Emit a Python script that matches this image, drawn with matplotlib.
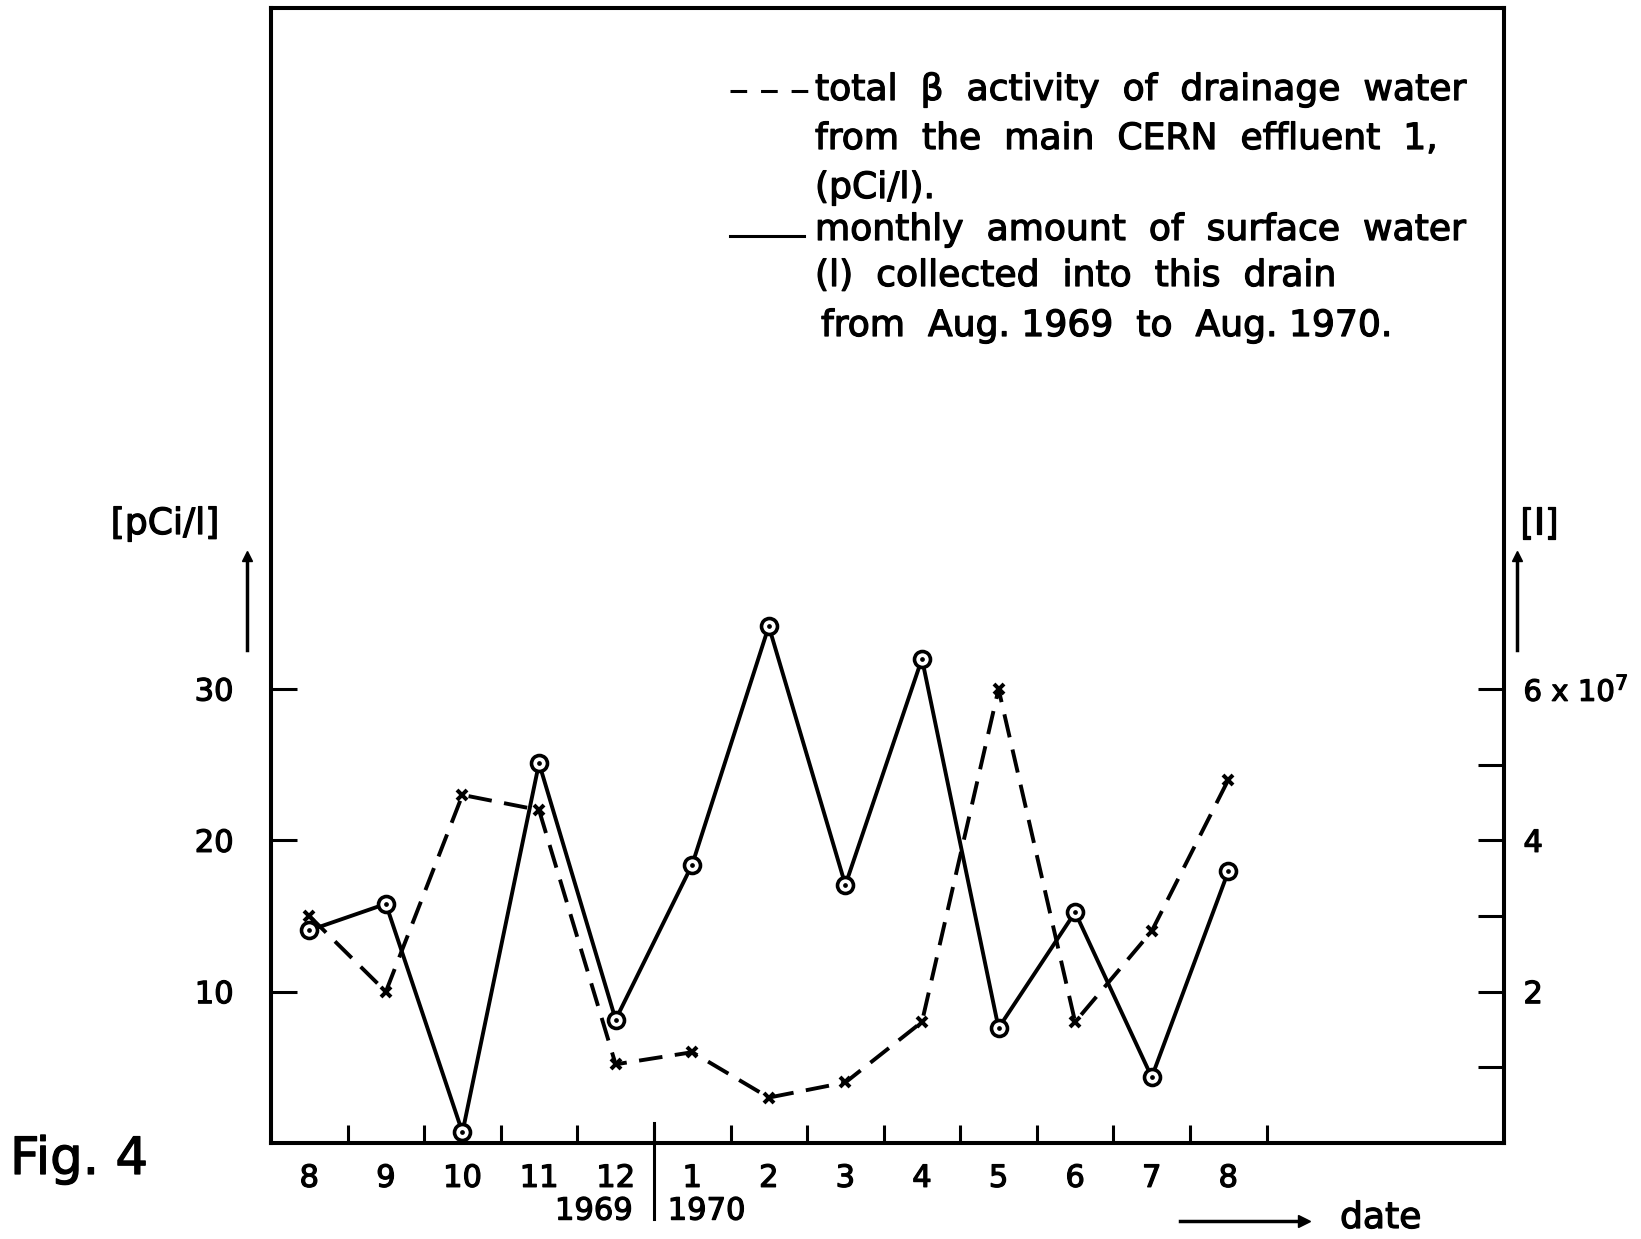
import numpy as np
import matplotlib
matplotlib.use('Agg')
import matplotlib.pyplot as plt
import matplotlib.patheffects as pe
from matplotlib.lines import Line2D
from matplotlib.text import Text

# months Aug 1969 .. Aug 1970
months = ['8', '9', '10', '11', '12', '1', '2', '3', '4', '5', '6', '7', '8']
# total beta activity of drainage water (pCi/l), dashed line with x marks
beta_activity = [15, 10, 23, 22, 5.2, 6, 3, 4, 8, 30, 8, 14, 24]
# monthly amount of surface water, in units of 1e7 litres, solid line with circles
surface_water = [2.81, 3.16, 0.14, 5.02, 1.63, 3.68, 6.83, 3.41, 6.4, 1.52, 3.05, 0.87, 3.59]

W, H = 1641, 1239
plt.rcParams['font.family'] = ['DejaVu Sans']
plt.rcParams['lines.scale_dashes'] = False

fig = plt.figure(figsize=(W / 100, H / 100), dpi=100)
fig.patch.set_facecolor('white')


def fx(px):
    return px / W


def fy(py):
    return 1 - py / H


ax = fig.add_axes([fx(271), fy(1143), fx(1504) - fx(271), fy(8) - fy(1143)])
ax2 = ax.twinx()

x = np.arange(len(months))
ax.set_xlim(-0.5, 15.6)
ax.set_ylim(0, 75)
ax2.set_ylim(0, 15)

for a in (ax, ax2):
    for s in a.spines.values():
        s.set_linewidth(2.9)

# dashed series
ax.plot(x, beta_activity, color='black', lw=2.8, dashes=(17, 9),
        marker='x', ms=7.5, mew=2.9, clip_on=False, zorder=3)
# solid series on the right scale
ax2.plot(x, surface_water, color='black', lw=2.8, marker='o', ms=11.5,
         mfc='white', mec='black', mew=2.6, clip_on=False, zorder=4)
ax2.plot(x, surface_water, ls='none', marker='o', ms=2.4, color='black',
         clip_on=False, zorder=5)

# left axis
ax.set_yticks([10, 20, 30])
ax.set_yticklabels(['10', '20', '30'])
ax.tick_params(axis='y', direction='in', length=19, width=2.2, labelsize=22, pad=27)

# bottom axis: tick marks between months, labels under the months
ax.set_xticks(np.arange(0.5, 12.6, 1.0))
ax.set_xticklabels([])
ax.set_xticks(x, minor=True)
ax.set_xticklabels(months, minor=True)
ax.tick_params(axis='x', which='major', direction='in', length=13, width=2.2)
ax.tick_params(axis='x', which='minor', length=0, labelsize=22, pad=15)

# right axis
ax2.set_yticks([1, 2, 3, 4, 5, 6])
ax2.set_yticklabels(['', '2', '', '4', '', r'6 x 10$^{7}$'])
ax2.tick_params(axis='y', direction='in', length=19, width=2.2, labelsize=22, pad=14)
ax2.get_yticklabels()[5].set_fontsize(21)

# year separator and year labels
ax.plot([4.5, 4.5], [-0.067, 0.018], color='black', lw=2.2,
        transform=ax.get_xaxis_transform(), clip_on=False)
ax.text(4.22, -0.06, '1969', transform=ax.get_xaxis_transform(),
        ha='right', va='center', fontsize=22)
ax.text(4.68, -0.06, '1970', transform=ax.get_xaxis_transform(),
        ha='left', va='center', fontsize=22)

# axis unit labels with arrows
fig.text(fx(165), fy(524), '[pCi/l]', ha='center', va='center', fontsize=26)
fig.text(fx(1539), fy(524), '[l]', ha='center', va='center', fontsize=26)
for xa in (247, 1517):
    fig.add_artist(Line2D([fx(xa), fx(xa)], [fy(650), fy(558)], color='black', lw=2.5))
    fig.add_artist(Line2D([fx(xa)], [fy(556)], marker='^', ms=7, color='black', lw=0))

fig.text(fx(10), fy(1160), 'Fig. 4', ha='left', va='center', fontsize=37)
fig.text(fx(1340), fy(1218), 'date', ha='left', va='center', fontsize=26)
fig.add_artist(Line2D([fx(1180), fx(1300)], [fy(1221), fy(1221)], color='black', lw=2.5))
fig.add_artist(Line2D([fx(1304)], [fy(1221)], marker='>', ms=8, color='black', lw=0))

# legend block
legend_lines = [
    (815, 90, 'total  β  activity  of  drainage  water'),
    (815, 139, 'from  the  main  CERN  effluent  1,'),
    (815, 188, '(pCi/l).'),
    (815, 230, 'monthly  amount  of  surface  water'),
    (815, 276, '(l)  collected  into  this  drain'),
    (821, 326, 'from  Aug. 1969  to  Aug. 1970.'),
]
for lx, ly, txt in legend_lines:
    fig.text(fx(lx), fy(ly), txt, ha='left', va='center', fontsize=26)
fig.add_artist(Line2D([fx(730), fx(808)], [fy(91), fy(91)], color='black', lw=2.2,
                      dashes=(12, 10)))
fig.add_artist(Line2D([fx(730), fx(804)], [fy(236), fy(236)], color='black', lw=2.2))

# thicken all lettering slightly, like the pen-drawn original
for t in fig.findobj(Text):
    t.set_path_effects([pe.withStroke(linewidth=0.9, foreground='black')])

fig.savefig('out.png', dpi=100, facecolor='white')
